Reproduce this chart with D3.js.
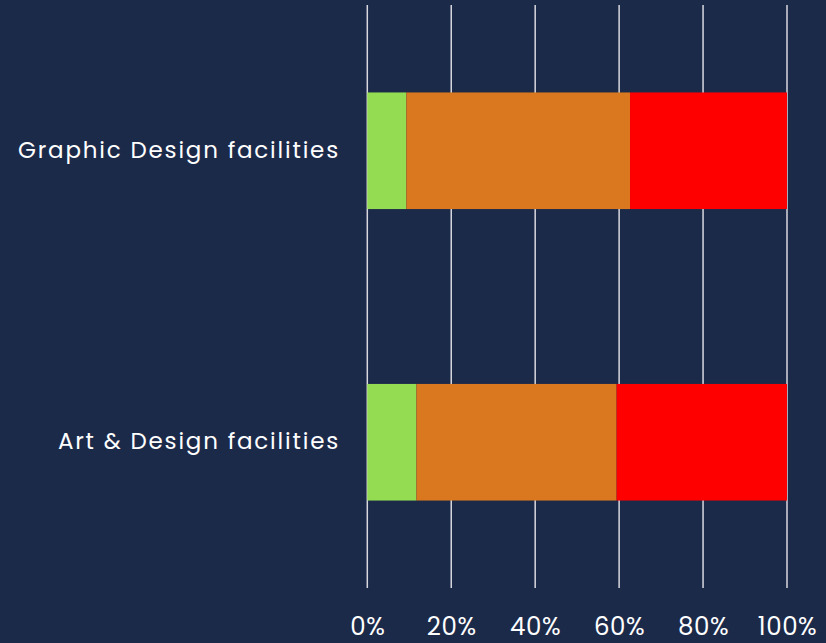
<!DOCTYPE html>
<html><head><meta charset="utf-8">
<script src="https://cdn.jsdelivr.net/npm/d3@7"></script>
<style>html,body{margin:0;padding:0;background:#1c2a4a;}</style>
</head><body>
<svg id="c" width="826" height="643"></svg>
<script>
const categories = ["Graphic Design facilities", "Art & Design facilities"];
const seriesNames = ["Positive", "Neutral", "Negative"];
const greenValues = [9.3, 11.7];
const orangeValues = [53.3, 47.7];
const redValues = [37.4, 40.6];
const colors = ["#94dc52", "#d9781e", "#ff0000"];
const tickValues = [0, 20, 40, 60, 80, 100];

const svg = d3.select("#c");
svg.append("rect").attr("width", 826).attr("height", 643).attr("fill", "#1c2a4a");
const x = d3.scaleLinear().domain([0, 100]).range([367.3, 787]);
const y = d3.scaleBand().domain(categories).range([5, 588]).paddingInner(0.6).paddingOuter(0.3);

const rows = categories.map((c, i) => ({cat: c, Positive: greenValues[i], Neutral: orangeValues[i], Negative: redValues[i]}));
const stacked = d3.stack().keys(seriesNames)(rows);

// gridlines
svg.append("g").selectAll("line").data(tickValues).join("line")
  .attr("x1", d => x(d)).attr("x2", d => x(d))
  .attr("y1", 5).attr("y2", 588)
  .attr("stroke", "#d8d8de").attr("stroke-width", 1.5);

stacked.forEach((s, si) => {
  svg.append("g").selectAll("rect").data(s).join("rect")
    .attr("x", d => x(d[0]))
    .attr("width", d => x(d[1]) - x(d[0]))
    .attr("y", d => y(d.data.cat))
    .attr("height", y.bandwidth())
    .attr("fill", colors[si]);
});

const font = "Poppins, 'Noto Sans', sans-serif";
const xAxis = d3.axisBottom(x).tickValues(tickValues).tickFormat(d => d + "%").tickSize(0).tickPadding(0);
const gx = svg.append("g").attr("transform", "translate(0,635)").call(xAxis);
gx.select(".domain").remove();
gx.selectAll("text").attr("fill", "#ffffff").attr("y", 0).attr("dy", 0)
  .style("font-family", font).style("font-size", "24.5px").style("letter-spacing", "0.6px");

const yAxis = d3.axisLeft(y).tickSize(0).tickPadding(0);
const gy = svg.append("g").attr("transform", "translate(340,0)").call(yAxis);
gy.select(".domain").remove();
gy.selectAll("text").attr("fill", "#ffffff").attr("dy", "0.3em")
  .style("font-family", font).style("font-size", "23px").style("letter-spacing", "1.8px");
</script>
</body></html>
